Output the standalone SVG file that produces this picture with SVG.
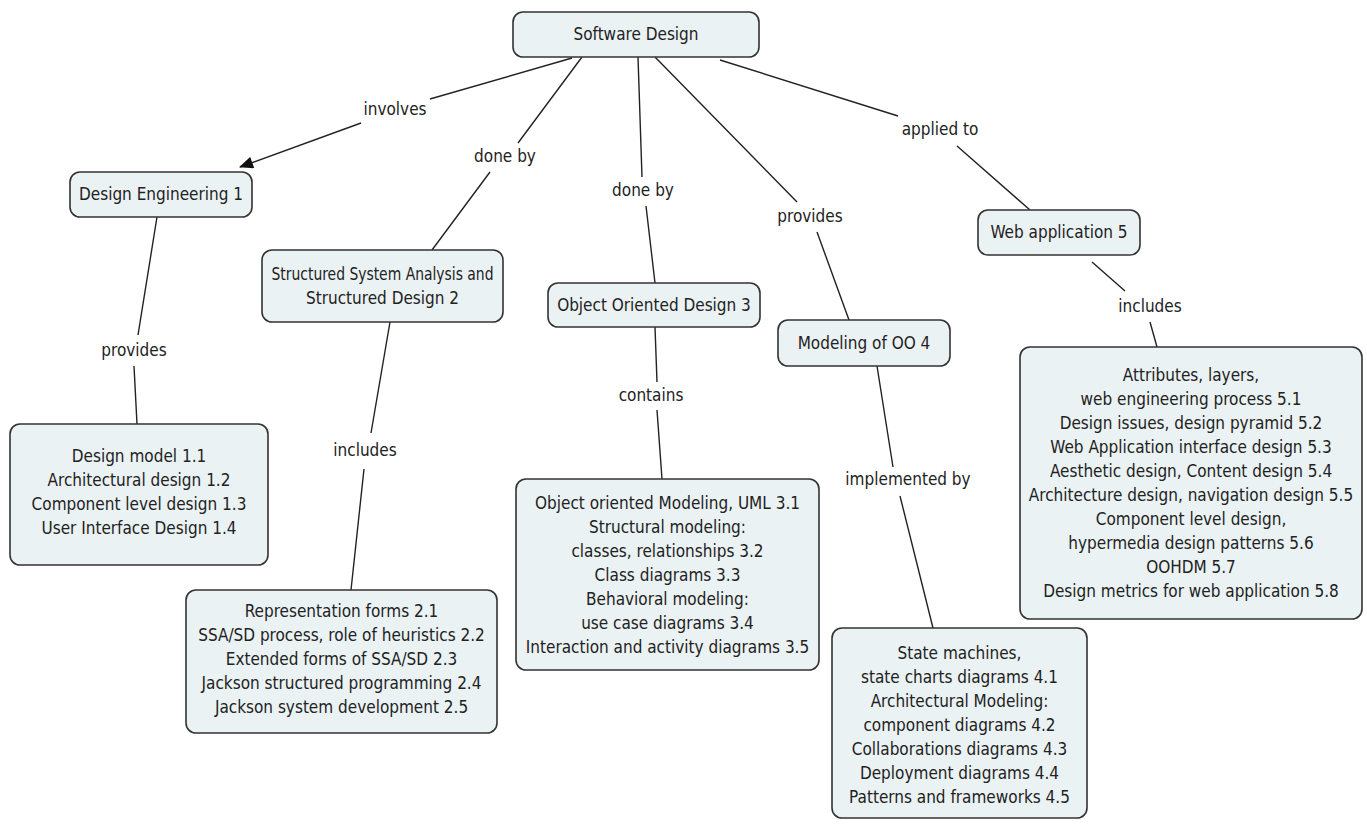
<svg xmlns="http://www.w3.org/2000/svg" width="1367" height="834" viewBox="0 0 1367 834">
  <defs>
    <marker id="arrow" viewBox="0 0 14 12" refX="13" refY="6" markerWidth="15" markerHeight="12" markerUnits="userSpaceOnUse" orient="auto">
      <path d="M0,0 L14,6 L0,12 z" fill="#111"/>
    </marker>
    <style>
      .box { fill: #ebf2f4; stroke: #333; stroke-width: 1.6; }
      text { font-family: "DejaVu Sans Condensed", "DejaVu Sans", sans-serif; font-stretch: condensed; font-size: 17px; fill: #222; text-anchor: middle; }
      .link { fill: none; stroke: #222; stroke-width: 1.4; }
    </style>
  </defs>
  <rect width="1367" height="834" fill="#fff"/>

  <g id="connectors">
    <path class="link" d="M572,58 L430,99"/>
    <path class="link" d="M361,123 L240,167" marker-end="url(#arrow)"/>
    <path class="link" d="M582,57 L518,143 M490,172 L432,250"/>
    <path class="link" d="M638,57 L642,177 M646,206 L655,283"/>
    <path class="link" d="M655,57 L797,202 M817,232 L849,320"/>
    <path class="link" d="M720,60 L898,116 M957,146 L1030,210"/>
    <path class="link" d="M157,217 L138,335 M134,366 L137,424"/>
    <path class="link" d="M390,322 L371,433 M364,469 L351,590"/>
    <path class="link" d="M655,327 L657,382 M657,410 L662,479"/>
    <path class="link" d="M877,366 L893,467 M900,496 L933,628"/>
    <path class="link" d="M1092,262 L1125,291 M1150,322 L1157,347"/>
  </g>

  <g id="labels">
    <text x="395" y="115">involves</text>
    <text x="505" y="162">done by</text>
    <text x="643" y="196">done by</text>
    <text x="810" y="222">provides</text>
    <text x="940" y="135">applied to</text>
    <text x="134" y="356">provides</text>
    <text x="365" y="456">includes</text>
    <text x="651" y="401">contains</text>
    <text x="908" y="485">implemented by</text>
    <text x="1150" y="312">includes</text>
  </g>

  <g id="software-design">
    <rect class="box" x="513" y="12" width="246" height="45" rx="10"/>
    <text x="636" y="40">Software Design</text>
  </g>

  <g id="design-engineering">
    <rect class="box" x="70" y="172" width="182" height="45" rx="10"/>
    <text x="161" y="200">Design Engineering 1</text>
  </g>

  <g id="structured-analysis">
    <rect class="box" x="262" y="250" width="241" height="72" rx="10"/>
    <text x="382.5" y="280" textLength="222" lengthAdjust="spacingAndGlyphs">Structured System Analysis and</text>
    <text x="382.5" y="304">Structured Design 2</text>
  </g>

  <g id="oo-design">
    <rect class="box" x="548" y="283" width="212" height="44" rx="10"/>
    <text x="654" y="311">Object Oriented Design 3</text>
  </g>

  <g id="oo-modeling">
    <rect class="box" x="778" y="320" width="172" height="46" rx="10"/>
    <text x="864" y="349">Modeling of OO 4</text>
  </g>

  <g id="web-application">
    <rect class="box" x="978" y="210" width="162" height="45" rx="10"/>
    <text x="1059" y="238">Web application 5</text>
  </g>

  <g id="design-topics">
    <rect class="box" x="10" y="424" width="258" height="141" rx="10"/>
    <text x="139" y="462">Design model 1.1</text>
    <text x="139" y="486">Architectural design 1.2</text>
    <text x="139" y="510">Component level design 1.3</text>
    <text x="139" y="534">User Interface Design 1.4</text>
  </g>

  <g id="ssa-topics">
    <rect class="box" x="186" y="590" width="311" height="143" rx="10"/>
    <text x="341.5" y="617">Representation forms 2.1</text>
    <text x="341.5" y="641">SSA/SD process, role of heuristics 2.2</text>
    <text x="341.5" y="665">Extended forms of SSA/SD 2.3</text>
    <text x="341.5" y="689">Jackson structured programming 2.4</text>
    <text x="341.5" y="713">Jackson system development 2.5</text>
  </g>

  <g id="ood-topics">
    <rect class="box" x="516" y="479" width="303" height="191" rx="10"/>
    <text x="667.5" y="508.5">Object oriented Modeling, UML 3.1</text>
    <text x="667.5" y="532.5">Structural modeling:</text>
    <text x="667.5" y="556.5">classes, relationships 3.2</text>
    <text x="667.5" y="580.5">Class diagrams 3.3</text>
    <text x="667.5" y="604.5">Behavioral modeling:</text>
    <text x="667.5" y="628.5">use case diagrams 3.4</text>
    <text x="667.5" y="652.5">Interaction and activity diagrams 3.5</text>
  </g>

  <g id="modeling-topics">
    <rect class="box" x="832" y="628" width="255" height="190" rx="10"/>
    <text x="959.5" y="659">State machines,</text>
    <text x="959.5" y="683">state charts diagrams 4.1</text>
    <text x="959.5" y="707">Architectural Modeling:</text>
    <text x="959.5" y="731">component diagrams 4.2</text>
    <text x="959.5" y="755">Collaborations diagrams 4.3</text>
    <text x="959.5" y="779">Deployment diagrams 4.4</text>
    <text x="959.5" y="803">Patterns and frameworks 4.5</text>
  </g>

  <g id="web-topics">
    <rect class="box" x="1020" y="347" width="342" height="272" rx="10"/>
    <text x="1191" y="381">Attributes, layers,</text>
    <text x="1191" y="405">web engineering process 5.1</text>
    <text x="1191" y="429">Design issues, design pyramid 5.2</text>
    <text x="1191" y="453">Web Application interface design 5.3</text>
    <text x="1191" y="477">Aesthetic design, Content design 5.4</text>
    <text x="1191" y="501">Architecture design, navigation design 5.5</text>
    <text x="1191" y="525">Component level design,</text>
    <text x="1191" y="549">hypermedia design patterns 5.6</text>
    <text x="1191" y="573">OOHDM 5.7</text>
    <text x="1191" y="597">Design metrics for web application 5.8</text>
  </g>
</svg>
